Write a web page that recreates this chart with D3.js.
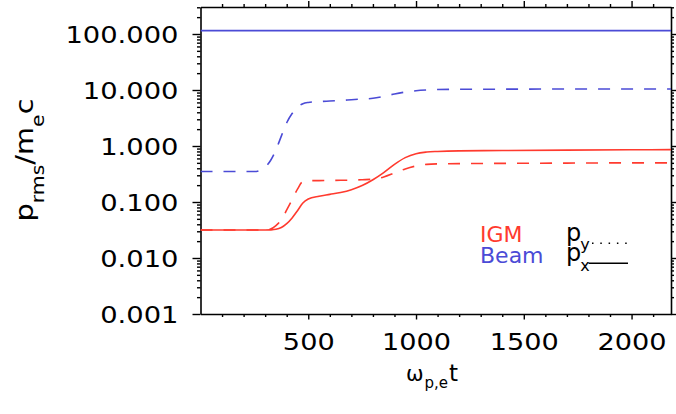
<!DOCTYPE html>
<html>
<head>
<meta charset="utf-8">
<script src="https://cdn.jsdelivr.net/npm/d3@7"></script>
<style>
  html, body { margin: 0; padding: 0; background: #fff; }
  svg { display: block; }
  text { font-family: "DejaVu Sans", sans-serif; }
</style>
</head>
<body>
<svg id="chart" width="676" height="414"></svg>
<script>
// time samples (ω_pe t)
const times = [0, 250, 300, 325, 350, 375, 400, 425, 450, 475, 500, 550, 600, 650, 700,
               750, 800, 850, 900, 950, 1000, 1050, 1100, 1200, 1400, 1700, 2000, 2183];

// rms momentum, in units of m_e c
const beamPx = [115, 115, 115, 115, 115, 115, 115, 115, 115, 115, 115, 115, 115, 115, 115,
                115, 115, 115, 115, 115, 115, 115, 115, 115, 115, 115, 115, 115];
const beamPy = [0.35, 0.35, 0.42, 0.55, 0.85, 1.5, 2.6, 3.8, 4.9, 5.7, 6.0, 6.2, 6.35, 6.5, 6.7,
                6.9, 7.1, 7.7, 8.5, 9.2, 9.7, 10.0, 10.2, 10.3, 10.35, 10.4, 10.4, 10.4];
const igmPx  = [0.0316, 0.0316, 0.0316, 0.0318, 0.0325, 0.035, 0.041, 0.052, 0.07, 0.096, 0.113,
                0.127, 0.137, 0.148, 0.166, 0.197, 0.25, 0.335, 0.47, 0.62, 0.73, 0.78, 0.8,
                0.82, 0.83, 0.845, 0.855, 0.86];
const igmPy  = [0.0316, 0.0316, 0.0318, 0.033, 0.038, 0.048, 0.072, 0.11, 0.17, 0.232, 0.24,
                0.241, 0.242, 0.244, 0.246, 0.25, 0.255, 0.28, 0.33, 0.39, 0.44, 0.47, 0.48,
                0.485, 0.49, 0.495, 0.5, 0.5];

// axis ticks
const yMajor = [0.001, 0.01, 0.1, 1, 10, 100];
const yLabels = ["0.001", "0.010", "0.100", "1.000", "10.000", "100.000"];
const xMajor = [500, 1000, 1500, 2000];
const xLabels = ["500", "1000", "1500", "2000"];

const RED = "#ff3a2e";
const BLUE = "#4b4bd6";

const svg = d3.select("#chart");
const L = 200.5, R = 671, T = 7, B = 314;

const x = d3.scaleLinear().domain([0, 2183]).range([L, R]);
const y = d3.scaleLog().domain([0.001, Math.pow(10, 2 + (34 - T) / 56)]).range([B, T]);

// minor ticks
const xMinor = d3.range(100, 2183, 100).filter(v => !xMajor.includes(v));
const yMinor = [];
for (let e = -3; e <= 2; e++) {
  for (let k = 2; k <= 9; k++) {
    const v = k * Math.pow(10, e);
    if (v < y.domain()[1]) yMinor.push(v);
  }
}

function styleAxis(g) {
  g.selectAll("path.domain").attr("stroke", "#000").attr("stroke-width", 1.6);
  g.selectAll(".tick line").attr("stroke", "#000").attr("stroke-width", 1.4);
}

// left axis
const gl = svg.append("g").attr("transform", `translate(${L},0)`)
  .call(d3.axisLeft(y).tickValues(yMajor).tickSize(8).tickSizeOuter(0)
    .tickFormat((d, i) => yLabels[i]));
gl.call(styleAxis);
gl.selectAll(".tick text")
  .attr("x", null).attr("dy", null)
  .attr("font-size", 23).attr("fill", "#000")
  .attr("font-family", "DejaVu Sans")
  .attr("text-anchor", "end")
  .attr("transform", "translate(-22,8.5) scale(1.19,1)");
svg.append("g").attr("transform", `translate(${L},0)`)
  .call(d3.axisLeft(y).tickValues(yMinor).tickSize(3.5).tickSizeOuter(0).tickFormat(""))
  .call(styleAxis).select("path.domain").remove();

// right axis
svg.append("g").attr("transform", `translate(${R},0)`)
  .call(d3.axisRight(y).tickValues(yMajor).tickSize(6).tickSizeOuter(0).tickFormat(""))
  .call(styleAxis);
svg.append("g").attr("transform", `translate(${R},0)`)
  .call(d3.axisRight(y).tickValues(yMinor).tickSize(3).tickSizeOuter(0).tickFormat(""))
  .call(styleAxis).select("path.domain").remove();

// bottom axis
const gb = svg.append("g").attr("transform", `translate(0,${B})`)
  .call(d3.axisBottom(x).tickValues(xMajor).tickSize(5.5).tickSizeOuter(0)
    .tickFormat((d, i) => xLabels[i]));
gb.call(styleAxis);
gb.selectAll(".tick text")
  .attr("y", null).attr("dy", null)
  .attr("font-size", 23).attr("fill", "#000")
  .attr("font-family", "DejaVu Sans")
  .attr("text-anchor", "middle")
  .attr("transform", "translate(0,36) scale(1.18,1)");
svg.append("g").attr("transform", `translate(0,${B})`)
  .call(d3.axisBottom(x).tickValues(xMinor).tickSize(3).tickSizeOuter(0).tickFormat(""))
  .call(styleAxis).select("path.domain").remove();

// top axis
svg.append("g").attr("transform", `translate(0,${T})`)
  .call(d3.axisTop(x).tickValues(xMajor).tickSize(6).tickSizeOuter(0).tickFormat(""))
  .call(styleAxis);
svg.append("g").attr("transform", `translate(0,${T})`)
  .call(d3.axisTop(x).tickValues(xMinor).tickSize(3).tickSizeOuter(0).tickFormat(""))
  .call(styleAxis).select("path.domain").remove();

// curves
svg.append("clipPath").attr("id", "plotClip")
  .append("rect").attr("x", L).attr("y", T).attr("width", R - L).attr("height", B - T);

const line = vals => d3.line()
  .x((d, i) => x(times[i]))
  .y(d => y(d))
  .curve(d3.curveMonotoneX)(vals);

const curves = svg.append("g").attr("clip-path", "url(#plotClip)");
const series = [
  { vals: igmPy, color: RED, dash: "12,11" },
  { vals: igmPx, color: RED, dash: null },
  { vals: beamPy, color: BLUE, dash: "12,11" },
  { vals: beamPx, color: BLUE, dash: null }
];
series.forEach(s => {
  curves.append("path")
    .attr("d", line(s.vals))
    .attr("fill", "none")
    .attr("stroke", s.color)
    .attr("stroke-width", 1.6)
    .attr("stroke-dasharray", s.dash);
});

// legend
svg.append("text").attr("x", 480).attr("y", 241.5).attr("font-size", 22)
  .attr("fill", RED).text("IGM");
svg.append("text").attr("x", 480).attr("y", 263.3).attr("font-size", 22)
  .attr("fill", BLUE).text("Beam");

const py = svg.append("text").attr("x", 566).attr("y", 240.7).attr("font-size", 24).attr("fill", "#000");
py.append("tspan").text("p");
py.append("tspan").attr("font-size", 16).attr("dy", 9).attr("dx", -1).text("y");
const px = svg.append("text").attr("x", 566).attr("y", 260.7).attr("font-size", 24).attr("fill", "#000");
px.append("tspan").text("p");
px.append("tspan").attr("font-size", 16).attr("dy", 10).attr("dx", -1).text("x");

svg.append("line").attr("x1", 592).attr("x2", 629).attr("y1", 243.3).attr("y2", 243.3)
  .attr("stroke", "#000").attr("stroke-width", 1.5).attr("stroke-dasharray", "1.5,6.8");
svg.append("line").attr("x1", 588.5).attr("x2", 628).attr("y1", 263.3).attr("y2", 263.3)
  .attr("stroke", "#000").attr("stroke-width", 1.5);

// axis titles
const xt = svg.append("text").attr("x", 432).attr("y", 381).attr("text-anchor", "middle")
  .attr("font-size", 23).attr("fill", "#000");
xt.append("tspan").attr("font-size", 21).text("ω");
xt.append("tspan").attr("font-size", 15).attr("dy", 7).attr("dx", 1).text("p,e");
xt.append("tspan").attr("dy", -7).attr("dx", 1).text("t");

const yt = svg.append("text")
  .attr("transform", "translate(33,160) rotate(-90) scale(1.2,1)")
  .attr("text-anchor", "middle").attr("font-size", 24).attr("fill", "#000");
yt.append("tspan").text("p");
yt.append("tspan").attr("font-size", 17).attr("dy", 11).text("rms");
yt.append("tspan").attr("dy", -11).text("/");
yt.append("tspan").text("m");
yt.append("tspan").attr("font-size", 17).attr("dy", 11).text("e");
yt.append("tspan").attr("dy", -11).text("c");
</script>
</body>
</html>
